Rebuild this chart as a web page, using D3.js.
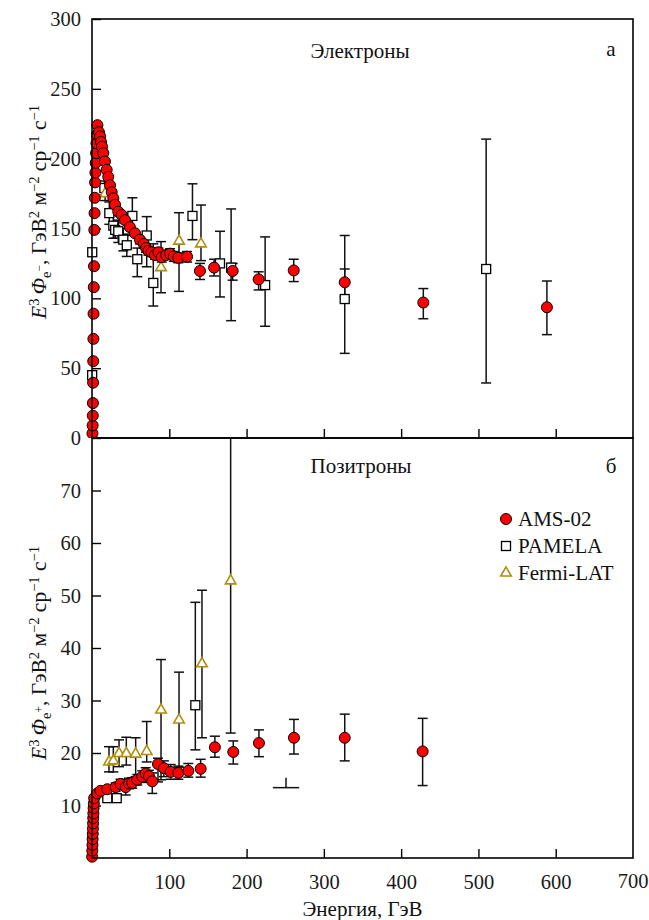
<!DOCTYPE html>
<meta charset="utf-8">
<style>
body { margin: 0; background: #fff; }
svg { display: block; font-family: "Liberation Serif", "Times New Roman", serif; }
.tick text { font-size: 20.5px; fill: #1a1a1a; }
.tick line { stroke: #000; stroke-width: 1.4px; }
.frame { fill: none; stroke: #000; stroke-width: 1.6px; }
.err { stroke: #111; stroke-width: 1.5px; fill: none; }
.ams { fill: #ff0000; stroke: #000; stroke-width: 1px; }
.pam { fill: #fff; stroke: #000; stroke-width: 1.3px; }
.fermi { fill: #fff; stroke: #b08d10; stroke-width: 1.6px; }
.lbl { font-size: 19px; fill: #111; }
</style>
<svg width="649" height="920"></svg>
<script src="https://cdn.jsdelivr.net/npm/d3@7"></script>
<script>

// [energy GeV, value, err low, err high]
var amsElectrons = [
  [0.6,3.3],[0.8,9],[1.0,16],[1.2,25],[1.4,39.6],[1.6,55],[1.8,71],[2.0,89],[2.3,108],[2.6,123],
  [3.0,149],[3.3,161],[3.6,172],[4.0,183],[4.4,190],[4.8,197],[5.3,204],[5.8,211],[6.4,217],[7.0,224],
  [9,219],[10.5,216],[11.6,212],[12.9,208.6],[14.6,204],[16.8,198],[19,192],[21,187],[23.3,181],[25.5,176],
  [27.6,171.6],[29.8,167],[34,162],[38.4,159.7],[42.7,156],[49,151],[55.6,146.6],[62,142,139,145],[67,139,136,142],
  [70,136,133,139],[73,134,131,137],[77,133,130,136],[81.5,131,128,134],[86,133,130,136],[90.2,129.5,126,133],
  [96,131,128,134],[101,132,128.5,135.5],[106,130,126.5,133.5],[111.7,129,125.5,132.5],[123,129.8,126,133.5],
  [139.7,119.6,113.5,125],[158,122,116,128],[182,119.6,113,125],[215.6,113.6,106,119],[261,120,112,128],
  [327,111.5,101,121],[428.7,97,85.4,107],[588.6,93.6,74,112.4]
];
var pamelaElectrons = [
  [0.2,45],[0.3,133],[16,179,174,184],[22.4,161,153,169],[27.6,152,143,160],[30,149,143,154],[34,148,140,156],
  [40.5,142,134,150],[45,138,130,146],[52.2,159,145,172],[58.6,128,115.5,136],[70.8,145,122.6,158.5],
  [79.3,111,94.5,139],[130,159,142,182],[165.6,125,101,148],[180,122,84,164],[224,109.5,80,144],
  [327,99.5,60.6,145],[510,121,39.4,214]
];
var fermiElectrons = [
  [17,175,170,180],[89.3,122,104,140.6],[112.6,141,105,161.3],[141,139,127,166.8]
];

var amsPositrons = [
  [0.2,0.25],[0.4,1.4],[0.6,2.5],[0.8,3.6],[1.0,4.6],[1.2,5.6],[1.4,6.6],[1.6,7.6],[1.8,8.5],[2.1,9.5],
  [2.4,10.4],[2.8,11.4],[6.9,12.3],[11,12.8],[19.8,13.1],[30.6,13.5,12.7,14.3],[37,14.1,13.2,15],
  [43.6,13.5,12,14.6],[47.9,14.2,13.2,15.2],[52,14.3,13.3,15.3],[58.6,14.9,13.9,15.9],[65,15.5,14.4,16.6],
  [69.5,16.1,15,17.2],[73.7,15.6,14.5,16.7],[78,14.6,12.3,16.2],[85.4,17.9,14.5,19],[93,17.1,15.5,18.5],
  [101.8,16.4,15,17.8],[111.7,16.2,15,17.5],[124.6,16.6,15.4,18],[140.6,17,15.4,18.8],[159,21.1,19.2,23.2],
  [182.8,20.2,17.9,22.3],[216,21.9,19.3,24.4],[261.3,22.9,19.8,26.4],[327,22.9,18.5,27.4],[427.8,20.3,13.8,26.6]
];
var pamelaPositrons = [
  [19.8,11.4],[32,11.4],[133.7,29.1,20.6,48.7]
];
var fermiPositrons = [
  [22,18.3,16.4,21.2],[27.6,18.5,16.4,21.2],[35,19.9,17.4,22.5],[44.4,19.9,17.7,23],[56.5,19.8,15.5,22.9],
  [70.8,20.3,18.3,26],[89.3,28.2,14.9,37.8],[112.6,26.3,17.3,35.4],[142.3,37,22.9,51],[179.4,52.8,23.8,100]
];
// lone error-bar fragment in the positron panel: [energy, low, high, cap half-width GeV]
var strayBar = [251, 13.4, 15.3, 17];

var xTicks = [100, 200, 300, 400, 500, 600, 700];
var yTicksTop = [0, 50, 100, 150, 200, 250, 300];
var yTicksBot = [10, 20, 30, 40, 50, 60, 70];
var legendNames = ["AMS-02", "PAMELA", "Fermi-LAT"];

var svg = d3.select("svg"),
    left = 92, right = 633, topY = 19, mid = 438, bottom = 858;

var x = d3.scaleLinear().domain([0, 700]).range([left, right]);
var yTop = d3.scaleLinear().domain([0, 300]).range([mid, topY]);
var yBot = d3.scaleLinear().domain([0, 80]).range([bottom, mid]);

var defs = svg.append("defs");
defs.append("clipPath").attr("id", "clipTop").append("rect")
    .attr("x", left - 8).attr("y", topY).attr("width", right - left + 8).attr("height", mid - topY);
defs.append("clipPath").attr("id", "clipBot").append("rect")
    .attr("x", left - 8).attr("y", mid).attr("width", right - left + 8).attr("height", bottom - mid + 8);

var tri = d3.symbol().type(d3.symbolTriangle).size(48);

function serif(a) {
  a.attr("font-family", null).attr("font-size", null);
  a.select(".domain").remove();
}

function panel(y, clip, ams, pam, fermi, yTicks) {
  var g = svg.append("g");

  g.append("g")
      .attr("transform", "translate(" + left + ",0)")
      .call(d3.axisLeft(y).tickValues(yTicks).tickSize(-9).tickSizeOuter(0).tickPadding(11))
      .call(serif);

  var xa = d3.axisBottom(x).tickValues(xTicks.slice(0, 6)).tickSize(-9).tickSizeOuter(0);
  g.append("g")
      .attr("transform", "translate(0," + y.range()[0] + ")")
      .call(y === yBot ? xa.tickPadding(16) : xa.tickFormat(""))
      .call(serif);

  var p = g.append("g").attr("clip-path", "url(#" + clip + ")");

  var bars = [].concat(pam, fermi, ams).filter(function(d) { return d.length > 2; });
  var eb = p.append("g").selectAll("g").data(bars).enter().append("g").attr("class", "err");
  eb.append("line")
      .attr("x1", function(d) { return x(d[0]); }).attr("x2", function(d) { return x(d[0]); })
      .attr("y1", function(d) { return y(d[2]); }).attr("y2", function(d) { return y(d[3]); });
  eb.selectAll(".cap").data(function(d) { return [[d[0], d[2]], [d[0], d[3]]]; })
    .enter().append("line")
      .attr("x1", function(d) { return x(d[0]) - 5; }).attr("x2", function(d) { return x(d[0]) + 5; })
      .attr("y1", function(d) { return y(d[1]); }).attr("y2", function(d) { return y(d[1]); });

  p.append("g").selectAll("rect").data(pam).enter().append("rect")
      .attr("class", "pam")
      .attr("x", function(d) { return x(d[0]) - 4.5; })
      .attr("y", function(d) { return y(d[1]) - 4.5; })
      .attr("width", 9).attr("height", 9);

  p.append("g").selectAll("path").data(fermi).enter().append("path")
      .attr("class", "fermi")
      .attr("d", tri)
      .attr("transform", function(d) { return "translate(" + x(d[0]) + "," + y(d[1]) + ")"; });

  p.append("g").selectAll("circle").data(ams).enter().append("circle")
      .attr("class", "ams")
      .attr("cx", function(d) { return x(d[0]); })
      .attr("cy", function(d) { return y(d[1]); })
      .attr("r", 5.5);

  g.append("rect").attr("class", "frame")
      .attr("x", left).attr("y", y.range()[1])
      .attr("width", right - left).attr("height", y.range()[0] - y.range()[1]);
  return p;
}

panel(yTop, "clipTop", amsElectrons, pamelaElectrons, fermiElectrons, yTicksTop);
var pb = panel(yBot, "clipBot", amsPositrons, pamelaPositrons, fermiPositrons, yTicksBot);

// stray bar
var sb = pb.append("g").attr("class", "err");
sb.append("line").attr("x1", x(strayBar[0])).attr("x2", x(strayBar[0]))
    .attr("y1", yBot(strayBar[1])).attr("y2", yBot(strayBar[2]));
sb.append("line").attr("x1", x(strayBar[0] - strayBar[3])).attr("x2", x(strayBar[0] + strayBar[3]))
    .attr("y1", yBot(strayBar[1])).attr("y2", yBot(strayBar[1]));

// 700 label sits on the frame corner
svg.append("text").attr("class", "lbl").style("font-size", "20.5px").style("fill", "#1a1a1a")
    .attr("x", x(700)).attr("y", bottom + 30).attr("text-anchor", "middle").text(xTicks[6]);

svg.append("text").attr("class", "lbl").style("font-size", "21px")
    .attr("x", (left + right) / 2).attr("y", 916).attr("text-anchor", "middle").text("Энергия, ГэВ");

svg.append("text").attr("class", "lbl").style("font-size", "21px").attr("x", 360).attr("y", 58).attr("text-anchor", "middle").text("Электроны");
svg.append("text").attr("class", "lbl").style("font-size", "21px").attr("x", 611).attr("y", 56).attr("text-anchor", "middle").text("а");
svg.append("text").attr("class", "lbl").style("font-size", "21px").attr("x", 361).attr("y", 473).attr("text-anchor", "middle").text("Позитроны");
svg.append("text").attr("class", "lbl").style("font-size", "21px").attr("x", 611).attr("y", 473).attr("text-anchor", "middle").text("б");

// rotated y titles
function yTitle(cx, cy, sign) {
  var t = svg.append("text").attr("class", "lbl").style("font-size", "21.5px")
      .attr("transform", "translate(" + cx + "," + cy + ") rotate(-90)")
      .attr("text-anchor", "middle");
  var parts = [
    ["E", 0, null, "italic"], ["3", -7, 14.5], ["\u2009", 7, null], ["Φ", 0, null, "italic"],
    ["e", 5, 14.5], [sign, -8, 11.5], [", ГэВ", 3, null], ["2", -7, 14.5], [" м", 7, null], ["−2", -7, 14.5],
    [" ср", 7, null], ["−1", -7, 14.5], [" с", 7, null], ["−1", -7, 14.5]
  ];
  parts.forEach(function(p) {
    var s = t.append("tspan").attr("dy", p[1]).text(p[0]);
    if (p[2]) s.style("font-size", p[2] + "px");
    if (p[3]) s.style("font-style", p[3]);
  });
}
yTitle(46, 212, "−");
yTitle(46, 653, "+");

// legend
var lg = svg.append("g");
var ly = [519, 546, 573];
lg.append("circle").attr("class", "ams").attr("cx", 506).attr("cy", ly[0]).attr("r", 5.5);
lg.append("rect").attr("class", "pam").attr("x", 501.5).attr("y", ly[1] - 4.5).attr("width", 9).attr("height", 9);
lg.append("path").attr("class", "fermi").attr("d", tri).attr("transform", "translate(506," + ly[2] + ")");
lg.selectAll("text").data(legendNames).enter().append("text")
    .attr("class", "lbl").style("font-size", "21px")
    .attr("x", 518).attr("y", function(d, i) { return ly[i] + 7; })
    .text(function(d) { return d; });

</script>
